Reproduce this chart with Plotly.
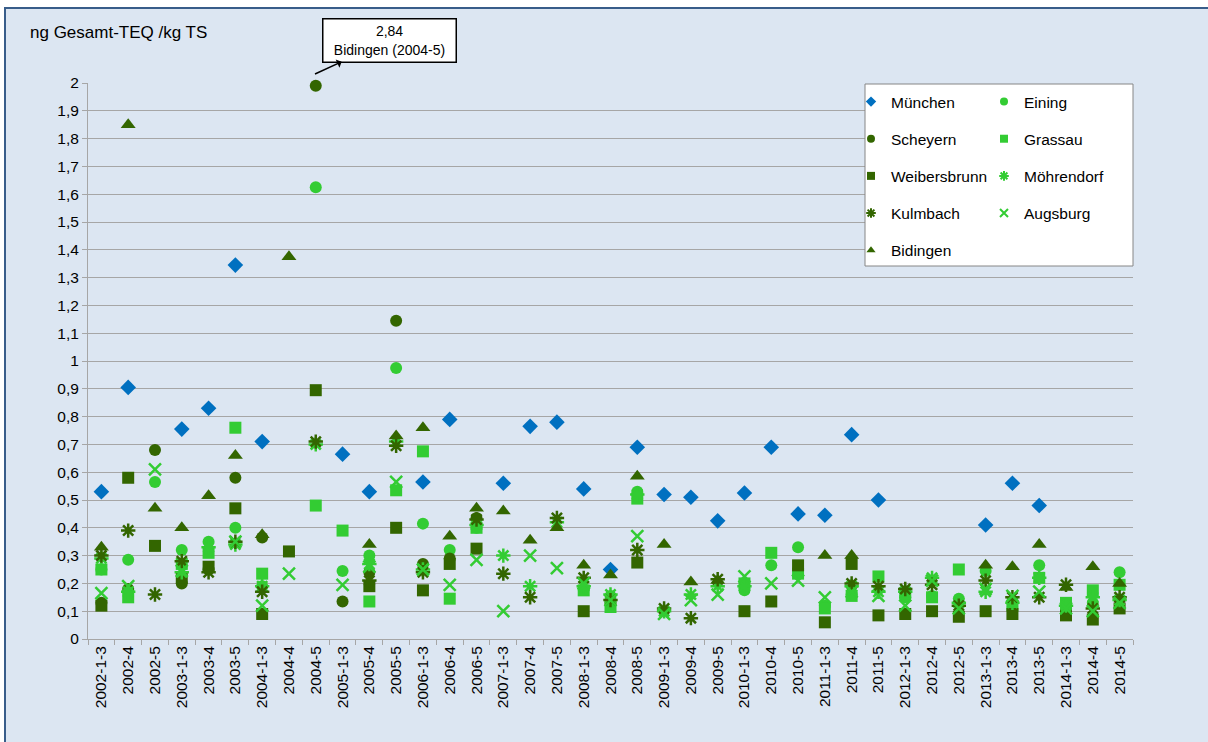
import plotly.graph_objects as go

categories = ["2002-1-3","2002-4","2002-5","2003-1-3","2003-4","2003-5","2004-1-3","2004-4","2004-5",
              "2005-1-3","2005-4","2005-5","2006-1-3","2006-4","2006-5","2007-1-3","2007-4","2007-5",
              "2008-1-3","2008-4","2008-5","2009-1-3","2009-4","2009-5","2010-1-3","2010-4","2010-5",
              "2011-1-3","2011-4","2011-5","2012-1-3","2012-4","2012-5","2013-1-3","2013-4","2013-5",
              "2014-1-3","2014-4","2014-5"]
N = None
muenchen = [0.53,0.905,N,0.755,0.83,1.345,0.71,N,N,0.665,0.53,N,0.565,0.79,N,0.56,0.765,0.78,
            0.54,0.25,0.69,0.52,0.51,0.425,0.525,0.69,0.45,0.445,0.735,0.50,N,N,N,0.41,0.56,0.48,N,N,N]
eining = [0.25,0.285,0.565,0.32,0.35,0.40,0.19,N,1.625,0.245,0.30,0.975,0.415,0.32,0.40,N,N,N,
          0.18,0.155,0.53,N,N,N,0.175,0.265,0.33,0.12,0.16,N,0.15,0.155,0.145,0.245,0.13,0.265,0.11,0.13,0.24]
scheyern = [0.13,0.18,0.68,0.20,0.25,0.58,0.365,N,1.99,0.135,0.24,1.145,0.27,0.29,0.435,N,N,N,
            N,0.13,N,N,N,N,N,N,N,N,N,N,N,N,N,N,N,N,N,N,N]
grassau = [0.25,0.15,N,0.27,0.31,0.76,0.235,N,0.48,0.39,0.135,0.535,0.675,0.145,0.40,N,N,N,
           0.175,0.115,0.505,N,N,N,0.20,0.31,0.235,0.11,0.155,0.225,0.165,0.15,0.25,N,0.12,0.22,0.13,0.175,0.195]
weibersbrunn = [0.12,0.58,0.335,0.22,0.26,0.47,0.09,0.315,0.895,N,0.19,0.40,0.175,0.27,0.325,N,N,N,
                0.10,N,0.275,N,N,N,0.10,0.135,0.265,0.06,0.27,0.085,0.09,0.10,0.08,0.10,0.09,N,0.085,0.07,0.11]
moehrendorf = [0.29,0.17,N,0.24,0.33,0.34,0.19,N,0.70,N,0.27,0.71,0.25,N,0.41,0.30,0.19,0.42,
               0.19,0.16,0.52,0.10,0.16,0.19,0.19,N,N,N,0.19,0.17,0.17,0.22,0.13,0.17,0.13,0.22,0.12,0.15,0.14]
kulmbach = [0.30,0.39,0.16,0.28,0.24,0.35,0.17,N,0.71,N,0.21,0.695,0.24,N,0.43,0.235,0.15,0.435,
            0.22,0.14,0.32,0.11,0.075,0.215,N,N,N,N,0.20,0.19,0.18,0.195,0.12,0.21,0.15,0.15,0.195,0.11,0.15]
augsburg = [0.165,0.19,0.61,0.245,N,0.35,0.12,0.235,N,0.195,0.26,0.565,0.25,0.195,0.285,0.10,0.30,0.255,
            0.20,0.14,0.37,0.09,0.14,0.16,0.225,0.20,0.21,0.15,0.17,0.155,0.12,0.21,0.11,0.18,0.155,0.17,0.11,0.10,0.13]
bidingen = [0.33,1.85,0.47,0.40,0.515,0.66,0.375,1.375,2.84,N,0.34,0.73,0.76,0.37,0.47,0.46,0.355,0.40,
            0.265,0.23,0.585,0.34,0.205,0.21,N,N,N,0.30,0.30,N,N,N,N,0.265,0.26,0.34,0.185,0.26,0.20]

y_ticks = [i / 10 for i in range(21)]
y_ticktext = ["0","0,1","0,2","0,3","0,4","0,5","0,6","0,7","0,8","0,9","1",
              "1,1","1,2","1,3","1,4","1,5","1,6","1,7","1,8","1,9","2"]

BLUE = "#0070C0"
LIGHT = "#33CC33"
DARK = "#336600"

series = [
    ("München", muenchen, "diamond", BLUE, 12, "legend"),
    ("Eining", eining, "circle", LIGHT, 12, "legend2"),
    ("Scheyern", scheyern, "circle", DARK, 12, "legend"),
    ("Grassau", grassau, "square", LIGHT, 12, "legend2"),
    ("Weibersbrunn", weibersbrunn, "square", DARK, 12, "legend"),
    ("Möhrendorf", moehrendorf, "asterisk-open", LIGHT, 12, "legend2"),
    ("Kulmbach", kulmbach, "asterisk-open", DARK, 12, "legend"),
    ("Augsburg", augsburg, "x-thin-open", LIGHT, 12, "legend2"),
    ("Bidingen", bidingen, "triangle-up", DARK, 13, "legend"),
]

fig = go.Figure()
for name, vals, sym, col, size, leg in series:
    open_sym = sym.endswith("open")
    fig.add_trace(go.Scatter(
        x=categories, y=vals, mode="markers", name=name, showlegend=False,
        cliponaxis=False,
        marker=dict(symbol=sym, size=size, color=col,
                    line=dict(color=col, width=2.5 if open_sym else 0)),
    ))
for name, vals, sym, col, size, leg in series:
    open_sym = sym.endswith("open")
    fig.add_trace(go.Scatter(
        x=[None], y=[None], mode="markers", name=name, showlegend=True,
        legend=leg, legendgroup=name,
        marker=dict(symbol=sym, size=8, color=col,
                    line=dict(color=col, width=2 if open_sym else 0)),
    ))

W, H = 1208, 742
L, R, T, B = 88, 1133, 83, 639
def px(xp):
    return (xp - L) / (R - L)
def py(yp):
    return (B - yp) / (B - T)

FONT = "Liberation Sans, Arial, sans-serif"

fig.update_layout(
    width=W, height=H,
    margin=dict(l=L, r=W - R, t=T, b=H - B),
    paper_bgcolor="white",
    plot_bgcolor="white",
    font=dict(family=FONT, size=15, color="black"),
    xaxis=dict(
        type="category", tickangle=-90, tickson="boundaries",
        ticks="outside", ticklen=5, tickcolor="#A6A6A6",
        showline=True, linecolor="#A6A6A6", linewidth=1,
        showgrid=False, tickfont=dict(size=15.5, family=FONT),
        range=[-0.5, len(categories) - 0.5],
    ),
    yaxis=dict(
        range=[0, 2], tickvals=y_ticks, ticktext=y_ticktext,
        ticks="outside", ticklen=5, tickcolor="#A6A6A6",
        showline=True, linecolor="#A6A6A6", linewidth=1,
        showgrid=True, gridcolor="#A6A6A6", gridwidth=1,
        zeroline=False, tickfont=dict(size=15.5, family=FONT),
    ),
    legend=dict(
        x=px(851), y=py(85), xanchor="left", yanchor="top",
        bgcolor="rgba(0,0,0,0)", borderwidth=0,
        font=dict(size=15.5, family=FONT), tracegroupgap=14,
    ),
    legend2=dict(
        x=px(984), y=py(85), xanchor="left", yanchor="top",
        bgcolor="rgba(0,0,0,0)", borderwidth=0,
        font=dict(size=15.5, family=FONT), tracegroupgap=14,
    ),
    shapes=[
        dict(type="rect", xref="paper", yref="paper", layer="below",
             x0=px(5), x1=px(1220), y0=py(760), y1=py(8),
             fillcolor="#DCE6F2", line=dict(color="#385D8A", width=2)),
        dict(type="rect", xref="paper", yref="paper", layer="above",
             x0=px(865), x1=px(1133), y0=py(266), y1=py(84),
             fillcolor="white", line=dict(color="#868686", width=1)),
    ],
    annotations=[
        dict(text="ng Gesamt-TEQ /kg TS", xref="paper", yref="paper",
             x=px(28), y=py(33), xanchor="left", yanchor="middle",
             showarrow=False, font=dict(size=17, family=FONT)),
        dict(text="2,84<br>Bidingen (2004-5)", xref="paper", yref="paper",
             x=px(315), y=py(74), ax=74, ay=-34, axref="pixel", ayref="pixel",
             showarrow=True, arrowside="start", arrowhead=2, arrowsize=1,
             arrowwidth=1.5, arrowcolor="black",
             bgcolor="white", bordercolor="black", borderwidth=1.5, borderpad=3,
             width=126, height=36, align="center",
             font=dict(size=14, family=FONT)),
    ],
)

fig.write_html("out.html", config={"displayModeBar": False},
               post_script="document.body.style.margin='0px';")
